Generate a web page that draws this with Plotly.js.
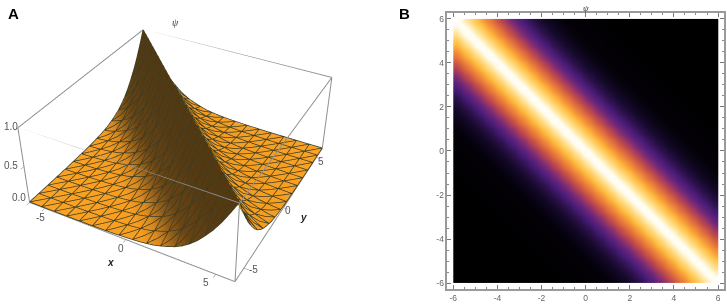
<!DOCTYPE html>
<html><head><meta charset="utf-8">
<script src="https://cdn.plot.ly/plotly-3.0.1.min.js"></script>
<style>html,body{margin:0;padding:0;background:#fff;overflow:hidden;width:727px;height:305px}
#a{position:absolute;left:-2px;top:-166px;width:370px;height:610px}
#c{position:absolute;left:0;top:0;width:727px;height:305px}</style>
</head><body><div id="a"></div><div id="c"></div>
<script>
// Panel A: nodes of the surface, and height read at distance |x+y| = 0, 0.4, 0.8 ...
const surfaceAxis = [-6,-5.6,-5.2,-4.8,-4.4,-4,-3.6,-3.2,-2.8,-2.4,-2,-1.6,-1.2,-0.8,-0.4,0,0.4,0.8,1.2,1.6,2,2.4,2.8,3.2,3.6,4,4.4,4.8,5.2,5.6,6];
const surfaceProfile = [1,0.84,0.69,0.56,0.45,0.35,0.27,0.205,0.155,0.12,0.09,0.065,0.05,0.038,0.03,0.023,0.018,0.014,0.011,0.009,0.007,0.005,0.004,0.003,0.003,0.002,0.002,0.001,0.001,0.001,0.001];
// Panel A: shade of the sheet against x+y (dark face on the near side of the ridge)
const shadeSum = [-12,-5,-4,-3.2,-2.4,-1,0,0.3,12];
const shadeColors = ['#fba425','#f89f22','#d98a20','#96601a','#6a4514','#573a12','#54380f','#f09a20','#fba425'];
const boxLimits = [-6,6], zLimits = [0,1];
// Panel B: cell edges and ridge intensity read at distance |x+y| = 0, 0.25, 0.5 ...
const heatEdges = [-6,-5.75,-5.5,-5.25,-5,-4.75,-4.5,-4.25,-4,-3.75,-3.5,-3.25,-3,-2.75,-2.5,-2.25,-2,-1.75,-1.5,-1.25,-1,-0.75,-0.5,-0.25,0,0.25,0.5,0.75,1,1.25,1.5,1.75,2,2.25,2.5,2.75,3,3.25,3.5,3.75,4,4.25,4.5,4.75,5,5.25,5.5,5.75,6];
const heatProfile = [1,0.9,0.8,0.71,0.62,0.54,0.47,0.41,0.35,0.3,0.25,0.21,0.18,0.15,0.12,0.1,0.08,0.065,0.05,0.04,0.03,0.025,0.02,0.015,0.012,0.01,0.008,0.006,0.005,0.004,0.003,0.002,0.002,0.001,0.001,0.001,0.001,0,0,0,0,0,0,0,0,0,0,0];
const heatStops = [[0,'#000000'],[0.03,'#040108'],[0.08,'#140929'],[0.18,'#4a1d78'],[0.25,'#7a2a78'],[0.35,'#c04a4c'],[0.47,'#ec7e38'],[0.62,'#ffbc3e'],[0.8,'#ffe59a'],[0.92,'#fffbea'],[1,'#ffffff']];
const sceneTicks = [-5,0,5], sceneTickText = ['-5','0','5'];
const zTicks = [0,0.5,1], zTickText = ['0.0','0.5','1.0'];
const heatTicks = [-6,-4,-2,0,2,4,6], heatTickText = ['-6','-4','-2','0','2','4','6'];

const n=surfaceAxis.length;
const at=(i,j)=>surfaceProfile[Math.round(Math.abs(surfaceAxis[i]+surfaceAxis[j])/0.4)];
const vx=[],vy=[],vz=[],vs=[],ti=[],tj=[],tk=[];
for(let j=0;j<n;j++)for(let i=0;i<n;i++){vx.push(surfaceAxis[i]);vy.push(surfaceAxis[j]);vz.push(at(i,j));vs.push(surfaceAxis[i]+surfaceAxis[j]);}
const id=(i,j)=>j*n+i;
for(let j=0;j<n-1;j++)for(let i=0;i<n-1;i++){
  ti.push(id(i,j),id(i+1,j));tj.push(id(i+1,j),id(i+1,j+1));tk.push(id(i,j+1),id(i,j+1));
}
const shadeScale=shadeSum.map((s,k)=>[(s+12)/24,shadeColors[k]]);

const mx=[],my=[],mz=[];
const lift=0.007;
const pt=(i,j)=>{mx.push(surfaceAxis[i]);my.push(surfaceAxis[j]);mz.push(at(i,j)+lift);};
const gap=()=>{mx.push(null);my.push(null);mz.push(null);};
for(let a=0;a<n;a+=2){
  for(let b=0;b<n;b++)pt(a,b);gap();
  for(let b=0;b<n;b++)pt(b,a);gap();
}
for(let d=-(n-1);d<=n-1;d+=2){
  for(let i=0;i<n;i++){const j=i+d;if(j>=0&&j<n)pt(i,j);}gap();
}
const bx=[],by=[],bz=[];
const edge=(p,q)=>{bx.push(p[0],q[0],null);by.push(p[1],q[1],null);bz.push(p[2],q[2],null);};
for(const u of boxLimits)for(const v of boxLimits){
  edge([boxLimits[0],u,v===6?1:0],[boxLimits[1],u,v===6?1:0]);
  edge([u,boxLimits[0],v===6?1:0],[u,boxLimits[1],v===6?1:0]);
  edge([u,v,zLimits[0]],[u,v,zLimits[1]]);
}
const axis3=(vals,text,range)=>({range:range,tickvals:vals,ticktext:text,title:{text:''},showticklabels:false,
  showbackground:false,showgrid:false,zeroline:false,showline:false,
  ticks:'outside',ticklen:4,tickcolor:'#8a8a8a',showspikes:false});

Plotly.newPlot('a',[
 {type:'mesh3d',x:vx,y:vy,z:vz,i:ti,j:tj,k:tk,intensity:vs,cmin:-12,cmax:12,colorscale:shadeScale,showscale:false,hoverinfo:'skip',
  lighting:{ambient:1,diffuse:0,specular:0,roughness:1,fresnel:0}},
 {type:'scatter3d',mode:'lines',x:mx,y:my,z:mz,hoverinfo:'skip',showlegend:false,connectgaps:false,line:{color:'#3c3c22',width:1.5}},
 {type:'scatter3d',mode:'lines',x:bx,y:by,z:bz,hoverinfo:'skip',showlegend:false,connectgaps:false,line:{color:'#8f8f8f',width:2}}
],{width:370,height:610,margin:{l:0,r:0,t:0,b:0},paper_bgcolor:'rgba(0,0,0,0)',showlegend:false,
 scene:{domain:{x:[0,1],y:[0,1]},aspectmode:'manual',aspectratio:{x:1,y:1,z:0.4},
  camera:{eye:{x:1.28,y:-2.37,z:1.91},center:{x:0,y:0,z:0},up:{x:0,y:0,z:1}},
  xaxis:axis3(sceneTicks,sceneTickText,boxLimits),yaxis:axis3(sceneTicks,sceneTickText,boxLimits),zaxis:axis3(zTicks,zTickText,zLimits)}
},{displayModeBar:false});

const heatCentres = heatEdges.slice(0,-1).map((e,i)=>(e+heatEdges[i+1])/2);
const heatZ = heatCentres.map(y=>heatCentres.map(x=>heatProfile[Math.round(Math.abs(x+y)/0.25)]));
const hAxis=(dom)=>({domain:dom,range:[-6.27,6.27],tickmode:'array',tickvals:heatTicks,ticktext:heatTickText,
  ticks:'inside',ticklen:4,tickcolor:'#777',tickwidth:1,mirror:'allticks',showline:true,linecolor:'#9a9a9a',linewidth:1.5,showgrid:false,zeroline:false,
  tickfont:{family:'Liberation Sans',size:8.5,color:'#666'},
  minor:{ticks:'inside',dtick:0.5,ticklen:2,tickcolor:'#888',tickwidth:1,showgrid:false}});
const note=(t,x,y,f)=>({text:t,xref:'paper',yref:'paper',x:x/727,y:1-y/305,xanchor:'center',yanchor:'middle',showarrow:false,font:f});
const tickFont={family:'Liberation Sans',size:10,color:'#555'};
Plotly.newPlot('c',[
 {type:'heatmap',x:heatEdges,y:heatEdges,z:heatZ,zmin:0,zmax:1,zsmooth:'best',colorscale:heatStops,showscale:false,hoverinfo:'skip'}
],{width:727,height:305,margin:{l:0,r:0,t:0,b:0},paper_bgcolor:'rgba(0,0,0,0)',plot_bgcolor:'#fff',showlegend:false,
 xaxis:hAxis([0.6153,0.9959]),yaxis:hAxis([0.0525,0.9574]),
 annotations:[
  note('<b>A</b>',13,14,{family:'Liberation Sans',size:15,color:'#000'}),
  note('<b>B</b>',404,14,{family:'Liberation Sans',size:15,color:'#000'}),
  note('<i>ψ</i>',175,23,{family:'Liberation Serif',size:10,color:'#333'}),
  note('<i>ψ</i>',586,8,{family:'Liberation Serif',size:9,color:'#333'}),
  note('<b><i>x</i></b>',110,262,{family:'Liberation Sans',size:10,color:'#222'}),
  note('<b><i>y</i></b>',303,217,{family:'Liberation Sans',size:10,color:'#222'}),
  note(zTickText[2],11,127,tickFont),note(zTickText[1],11,165,tickFont),note(zTickText[0],19,197,tickFont),
  note(sceneTickText[0],40,217,tickFont),note(sceneTickText[1],121,248,tickFont),note(sceneTickText[2],206,282,tickFont),
  note(sceneTickText[2],321,162,tickFont),note(sceneTickText[1],288,211,tickFont),note(sceneTickText[0],254,269,tickFont)
 ]},{displayModeBar:false});
document.getElementById('c').style.pointerEvents='none';
</script></body></html>
